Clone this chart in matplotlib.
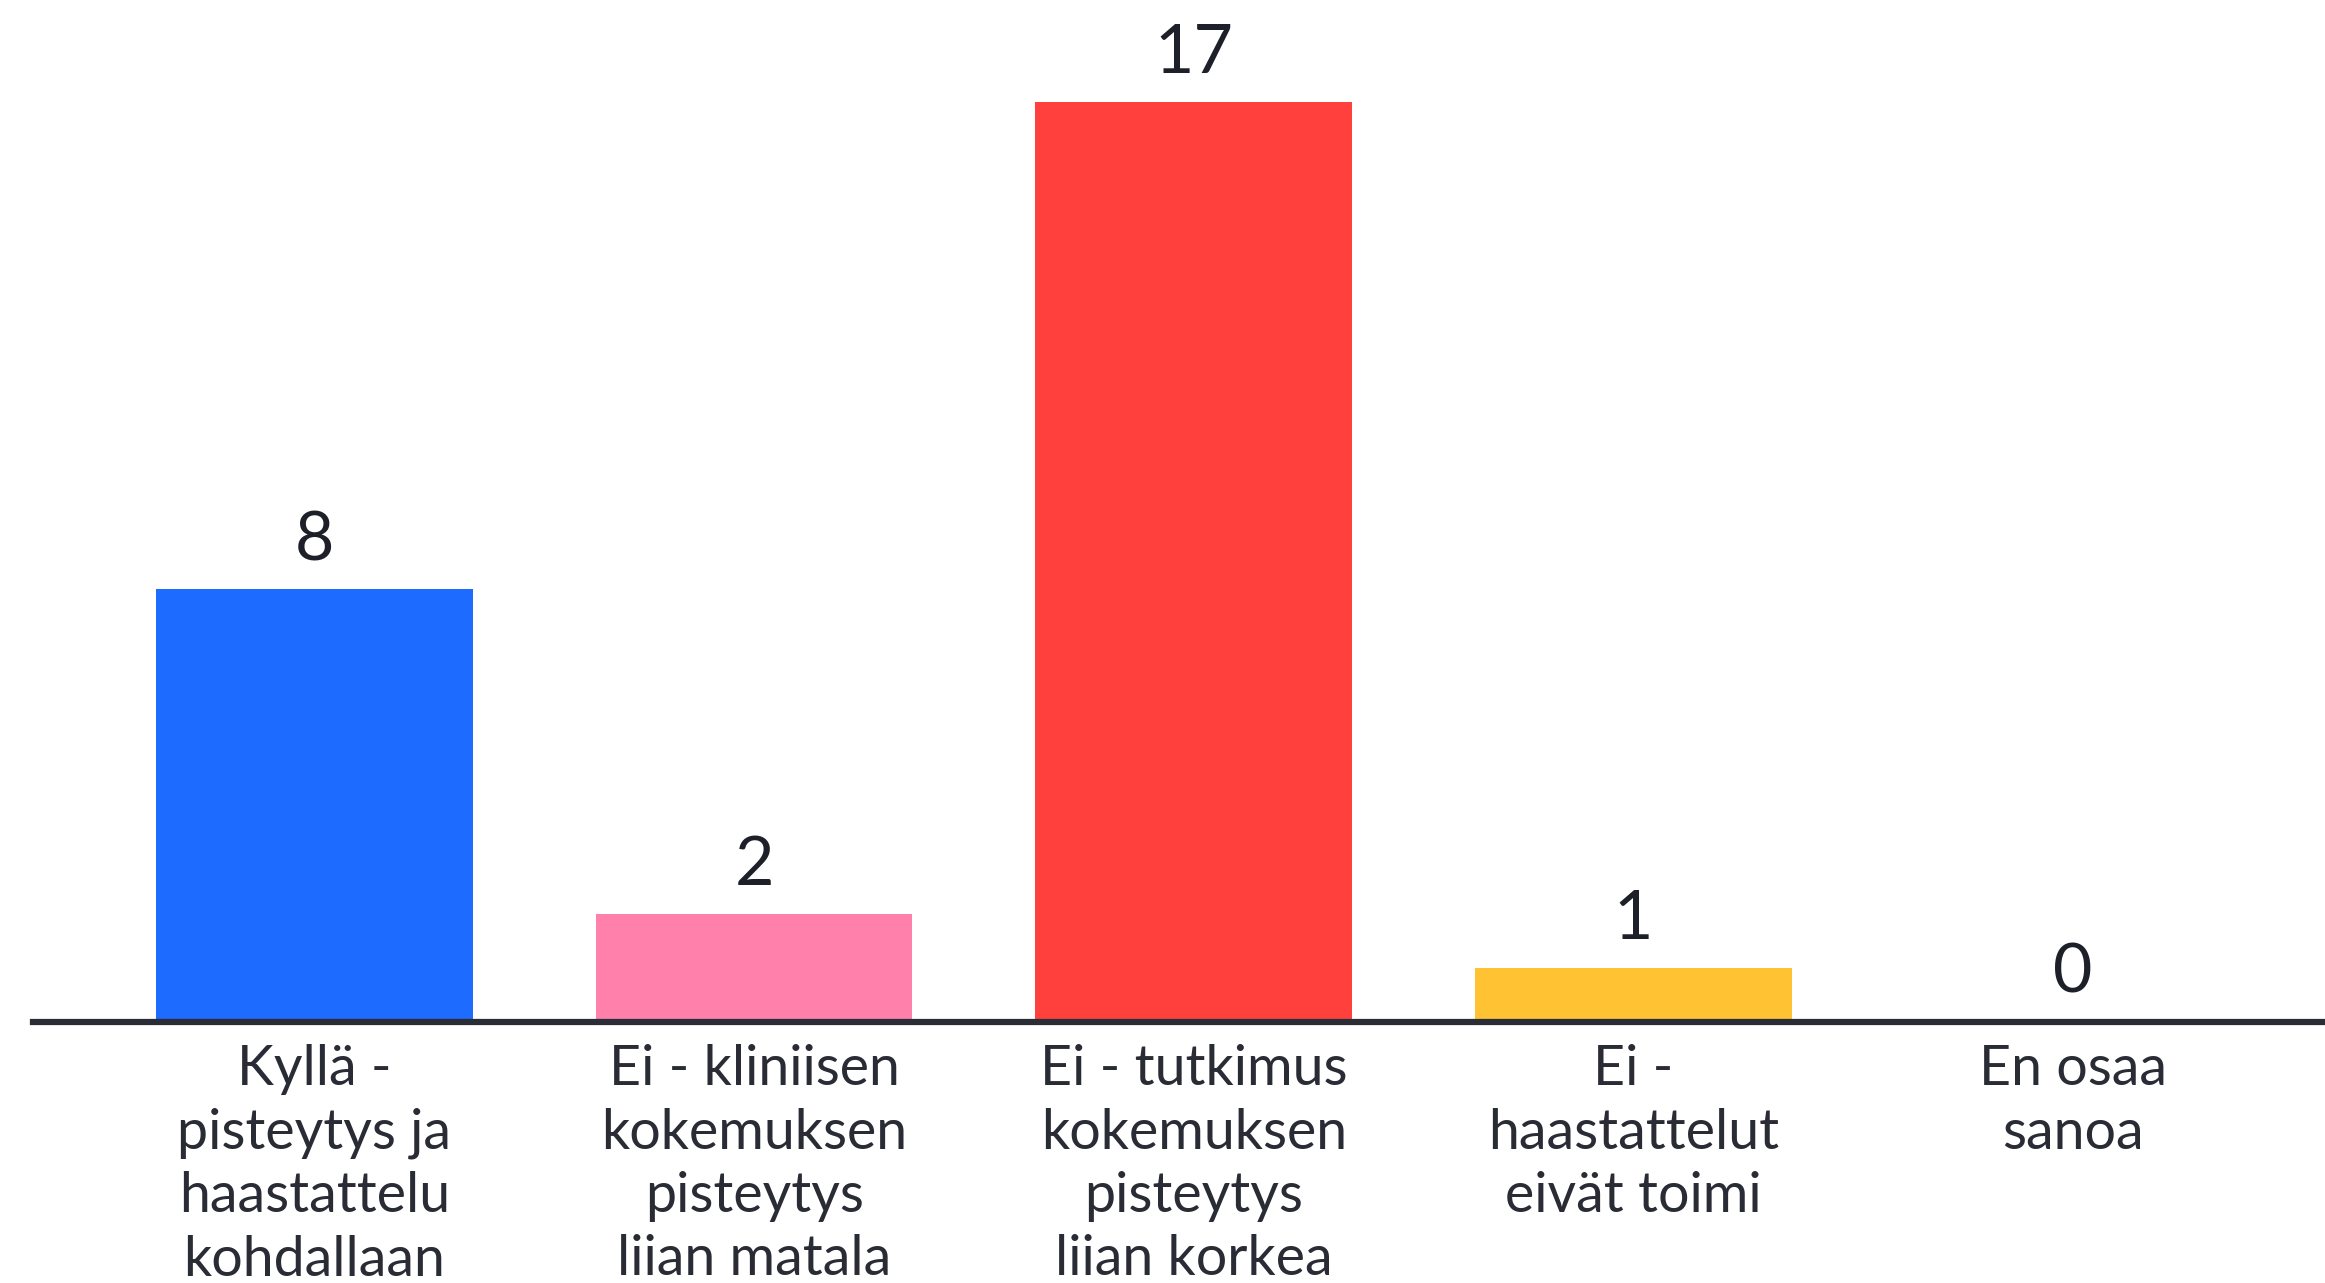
import matplotlib
matplotlib.use('Agg')
import matplotlib.pyplot as plt

# vastaukset
categories = ['Kyllä -\npisteytys ja\nhaastattelu\nkohdallaan',
              'Ei - kliniisen\nkokemuksen\npisteytys\nliian matala',
              'Ei - tutkimus\nkokemuksen\npisteytys\nliian korkea',
              'Ei -\nhaastattelut\neivät toimi',
              'En osaa\nsanoa']
counts = [8, 2, 17, 1, 0]
colors = ['#1e6bff', '#ff80ab', '#ff403d', '#ffc233', '#8a8a8a']

plt.rcParams['font.family'] = ['Lato', 'DejaVu Sans']
text_col = '#1e2029'

fig = plt.figure(figsize=(23.25, 12.83), dpi=100)
ax = fig.add_axes([0.0142, 0.2034, 0.9858, 0.7966])

x = list(range(len(counts)))
bars = ax.bar(x, counts, width=0.72, color=colors)

for xi, v in zip(x, counts):
    ax.annotate(str(v), (xi, v), xytext=(0, 21), textcoords='offset points',
                ha='center', va='baseline', fontsize=49, color=text_col)

ax.set_xlim(-0.64, 4.573)
ax.set_ylim(0, 18.89)
ax.set_xticks(x)
ax.set_xticklabels(categories, fontsize=40, color='#2a2c35', linespacing=1.3)
ax.tick_params(axis='x', length=0, pad=16)
ax.set_yticks([])
for s in ['top', 'right', 'left']:
    ax.spines[s].set_visible(False)
ax.spines['bottom'].set_color('#2a2d36')
ax.spines['bottom'].set_linewidth(4.5)

fig.savefig('out.png', dpi=100, facecolor='white')
